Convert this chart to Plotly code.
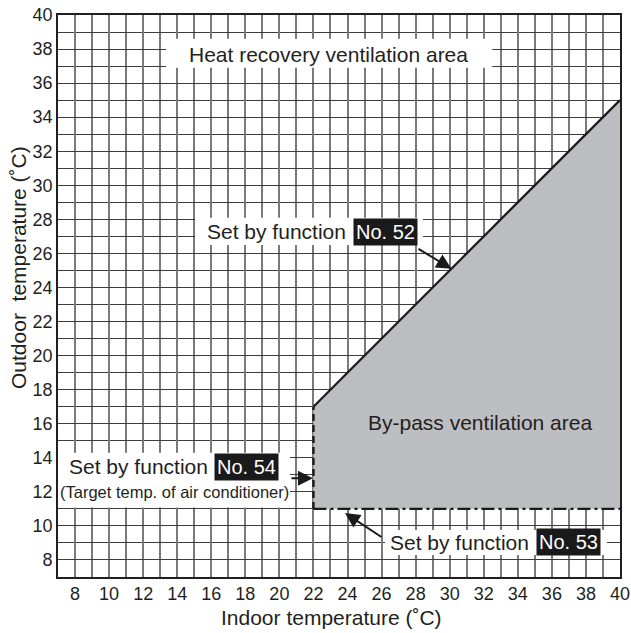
import plotly.graph_objects as go

# ---- data ----
indoor_range = [7, 40]
outdoor_range = [7, 40]
tick_vals = list(range(8, 41, 2))
tick_text = [str(v) for v in tick_vals]

# By-pass ventilation area boundary (indoor, outdoor)
bypass_x = [22, 40, 40, 22, 22]
bypass_y = [11, 11, 35, 17, 11]
# Function 52 line (outdoor upper limit)
f52_x = [22, 40]
f52_y = [17, 35]
# Function 54 (indoor lower limit / target temp)
f54_x = [22, 22]
f54_y = [11, 17]
# Function 53 (outdoor lower limit)
f53_x = [22, 40]
f53_y = [11, 11]

TXT = "#231f20"
FONT = "Liberation Sans, Arial, sans-serif"

fig = go.Figure()
fig.add_trace(go.Scatter(x=bypass_x, y=bypass_y, fill="toself", fillcolor="#bdbec1",
                         mode="none", hoverinfo="skip", showlegend=False))
fig.add_trace(go.Scatter(x=f52_x, y=f52_y, mode="lines",
                         line=dict(color="#1a1a1a", width=2.2), showlegend=False))
fig.add_trace(go.Scatter(x=f54_x, y=f54_y, mode="lines",
                         line=dict(color="#1a1a1a", width=2.4, dash="7px,4px"), showlegend=False))
fig.add_trace(go.Scatter(x=f53_x, y=f53_y, mode="lines",
                         line=dict(color="#1a1a1a", width=2.4, dash="13px,4px,3px,4px"), showlegend=False))

# white label boxes
boxes = [
    (13.35, 32.5, 36.9, 38.6),
    (15.05, 28.43, 26.5, 28.1),
    (7.0, 20.62, 11.08, 14.3),
    (26.2, 39.24, 8.29, 9.76),
]
for x0, x1, y0, y1 in boxes:
    fig.add_shape(type="rect", x0=x0, x1=x1, y0=y0, y1=y1, xref="x", yref="y",
                  fillcolor="white", line=dict(width=0), layer="above")

ann = []
def txt(x, y, t, size=21, xanchor="center", color=TXT, bg=None, family=FONT, pad=1):
    d = dict(x=x, y=y, xref="x", yref="y", text=t, showarrow=False, xanchor=xanchor,
             yanchor="middle", font=dict(family=family, size=size, color=color), borderpad=pad)
    if bg:
        d["bgcolor"] = bg
    ann.append(d)

txt(22.9, 37.7, "Heat recovery ventilation area")
txt(31.8, 16.06, "By-pass ventilation area")

txt(24.05, 27.26, "Set by function", xanchor="right")
txt(24.32, 27.26, "No. 52", size=20, xanchor="left", color="white", bg="#1a1a1a", pad=2)

txt(15.9, 13.46, "Set by function", xanchor="right")
txt(16.16, 13.46, "No. 54", size=20, xanchor="left", color="white", bg="#1a1a1a", pad=2)
txt(13.84, 11.99, "(Target temp. of air conditioner)", size=16.5)

txt(34.8, 9.05, "Set by function", xanchor="right")
txt(35.07, 9.05, "No. 53", size=20, xanchor="left", color="white", bg="#1a1a1a", pad=2)

# arrows
for tip, tail in [((30.1, 25.1), (28.08, 26.32)),
                  ((23.85, 10.76), (26.08, 9.29)),
                  ((21.97, 12.8), (20.62, 12.8))]:
    ann.append(dict(x=tip[0], y=tip[1], ax=tail[0], ay=tail[1], xref="x", yref="y",
                    axref="x", ayref="y", text="", showarrow=True, arrowhead=2,
                    arrowsize=1.5, arrowwidth=2, arrowcolor="#1a1a1a", standoff=0))

# axis titles (positions relative to the plot area)
ann.append(dict(x=(331 - 58) / 562, y=-(617 - 577) / 562, xref="paper", yref="paper",
                text="Indoor temperature (˚C)", showarrow=False, xanchor="center", yanchor="middle",
                font=dict(family=FONT, size=21, color=TXT)))
ann.append(dict(x=-(58 - 18) / 562, y=(577 - 268) / 562, xref="paper", yref="paper",
                text="Outdoor\u00a0\u00a0temperature (˚C)", showarrow=False, textangle=-90,
                xanchor="center", yanchor="middle",
                font=dict(family=FONT, size=21, color=TXT)))

axis_common = dict(showline=True, mirror=True, linecolor="#231f20", linewidth=1.6,
                   tickvals=tick_vals, ticktext=tick_text, ticks="", zeroline=False,
                   tickfont=dict(family=FONT, size=18, color=TXT), fixedrange=True,
                   automargin=False)

fig.update_xaxes(range=indoor_range, showgrid=True, gridcolor="#7a7a7a", gridwidth=1.5,
                 minor=dict(dtick=1, tick0=0, showgrid=True, gridcolor="#7a7a7a", gridwidth=1.5),
                 **axis_common)
fig.update_yaxes(range=outdoor_range, showgrid=True, gridcolor="#3c3c3c", gridwidth=1.3,
                 minor=dict(dtick=1, tick0=0, showgrid=True, gridcolor="#3c3c3c", gridwidth=1.3),
                 **axis_common)

fig.update_layout(width=631, height=633, autosize=False,
                  margin=dict(l=58, r=11, t=15, b=56),
                  paper_bgcolor="white", plot_bgcolor="white",
                  annotations=ann, showlegend=False)

fig.write_html("out.html", config={"displayModeBar": False},
               post_script="document.body.style.margin='0';document.body.style.overflow='hidden';")
